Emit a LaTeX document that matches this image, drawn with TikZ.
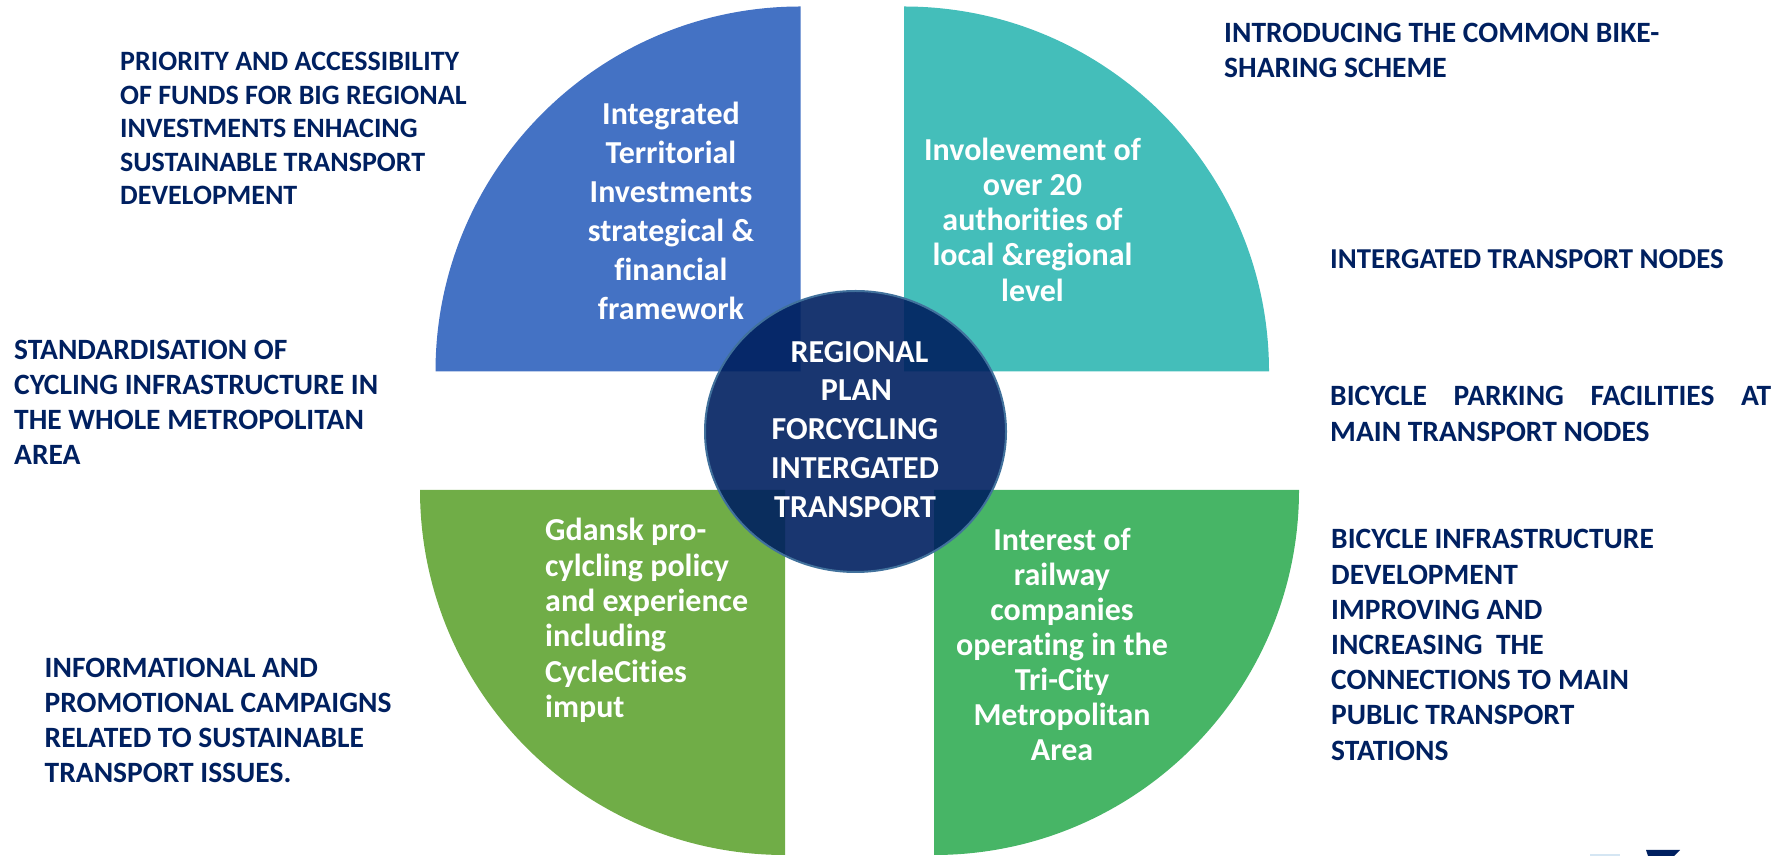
\documentclass[tikz,border=0pt]{standalone}
\usepackage{fontspec}
\setmainfont[Ligatures=NoCommon]{Carlito}
\definecolor{navy}{HTML}{002060}
\definecolor{qtl}{HTML}{4472C4}
\definecolor{qtr}{HTML}{44BEBA}
\definecolor{qbl}{HTML}{70AD47}
\definecolor{qbr}{HTML}{47B566}
\definecolor{ring}{HTML}{41719C}
\definecolor{paleblue}{HTML}{D5E6F3}
\tikzset{
  sidetext/.style={anchor=north west,align=left,inner sep=0pt,text=navy,font=\bfseries\fontsize{29.5}{#1}\selectfont},
  sidesmall/.style={anchor=north west,align=left,inner sep=0pt,text=navy,font=\bfseries\fontsize{28}{#1}\selectfont},
  quadtext/.style={anchor=north,align=center,inner sep=0pt,text=white,font=\bfseries\fontsize{32}{#1}\selectfont},
  quadleft/.style={anchor=north west,align=left,inner sep=0pt,text=white,font=\bfseries\fontsize{32}{#1}\selectfont},
}
\begin{document}
\begin{tikzpicture}[x=1pt,y=1pt]
\useasboundingbox (0,0) rectangle (1787,856);
\fill[qtl] (800.5,484.5) -- (800.5,849.5) arc[start angle=90,end angle=180,radius=365pt] -- cycle;
\fill[qtr] (904,484.5) -- (904,849.5) arc[start angle=90,end angle=0,radius=365pt] -- cycle;
\fill[qbl] (785,366) -- (785,1) arc[start angle=270,end angle=180,radius=365pt] -- cycle;
\fill[qbr] (934,366) -- (934,1) arc[start angle=270,end angle=360,radius=365pt] -- cycle;
\begin{scope}[yshift=856pt,y=-1pt]
\node[quadtext=39] (tltext) at (671,97) {\strut Integrated\\Territorial\\Investments\\strategical \&\\financial\\framework};
\node[quadtext=35.2] (trtext) at (1032.5,135.5) {\strut Involevement of\\over 20\\authorities of\\local \&regional\\level};
\node[quadleft=35.3] (bltext) at (545,516) {\strut Gdansk pro-\\cylcling policy\\and experience\\including\\CycleCities\\imput};
\node[quadtext=35] (brtext) at (1062,525.5) {\strut Interest of\\railway\\companies\\operating in the\\Tri-City\\Metropolitan\\Area};
\node[sidesmall=33.5] (a) at (120,47) {\strut PRIORITY AND ACCESSIBILITY\\OF FUNDS FOR BIG REGIONAL\\INVESTMENTS ENHACING\\SUSTAINABLE TRANSPORT\\DEVELOPMENT};
\node[sidetext=35] (b) at (14,335) {\strut STANDARDISATION OF\\CYCLING INFRASTRUCTURE IN\\THE WHOLE METROPOLITAN\\AREA};
\node[sidetext=35] (c) at (44.5,653) {\strut INFORMATIONAL AND\\PROMOTIONAL CAMPAIGNS\\RELATED TO SUSTAINABLE\\TRANSPORT ISSUES.};
\node[sidetext=35] (d) at (1224,17.5) {\strut INTRODUCING THE COMMON BIKE-\\SHARING SCHEME};
\node[sidetext=35,font=\bfseries\fontsize{28.8}{35}\selectfont] (e) at (1330,244) {\strut INTERGATED TRANSPORT NODES};
\node[sidetext=36] (f) at (1330,380) {\strut\hbox to 441pt{BICYCLE\hfill PARKING\hfill FACILITIES\hfill AT}\\MAIN TRANSPORT NODES};
\node[sidetext=35.2] (g) at (1331,524) {\strut BICYCLE INFRASTRUCTURE\\DEVELOPMENT\\IMPROVING AND\\INCREASING\ \ THE\\CONNECTIONS TO MAIN\\PUBLIC TRANSPORT\\STATIONS};
\end{scope}
\fill[navy,fill opacity=.9] (855.5,424.5) ellipse[x radius=150.5pt,y radius=140.5pt];
\draw[ring,line width=2pt] (855.5,424.5) ellipse[x radius=150.5pt,y radius=140.5pt];
\begin{scope}[yshift=856pt,y=-1pt]
\node[quadtext=38.7] (center) at (855,335) {\strut\hspace*{9pt}REGIONAL\\\hspace*{3pt}PLAN\\FORCYCLING\\INTERGATED\\TRANSPORT};
\end{scope}
\fill[navy] (1646,6) -- (1680,6) -- (1674,0) -- (1648,0) -- cycle;
\fill[paleblue] (1590,2) rectangle (1620,0);
\end{tikzpicture}
\end{document}
